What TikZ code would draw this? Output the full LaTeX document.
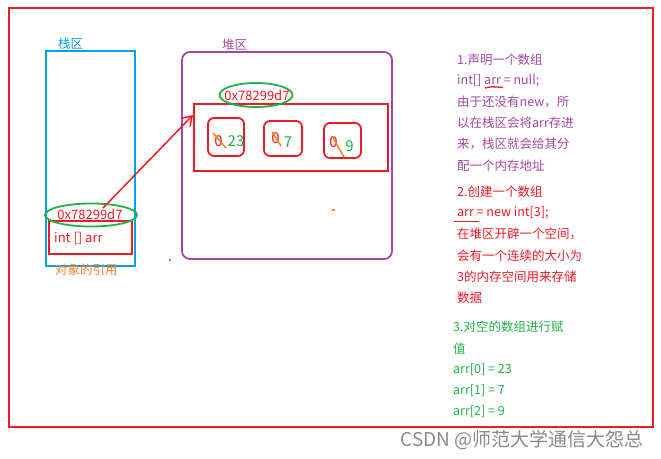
\documentclass[tikz,border=0pt]{standalone}
\usepackage{fontspec}
\setmainfont{Noto Sans CJK SC}
\usetikzlibrary{arrows.meta,shapes.geometric}
\definecolor{pred}{HTML}{ED1C24}
\definecolor{pgreen}{HTML}{22B14C}
\definecolor{pblue}{HTML}{00A2E8}
\definecolor{ppurple}{HTML}{A349A4}
\definecolor{porange}{HTML}{FF7F27}
\definecolor{pgray}{HTML}{8A8A8A}
\tikzset{
  txt/.style={anchor=west,inner sep=0pt,font=\fontsize{12.5}{14}\selectfont},
  big/.style={anchor=center,inner sep=0pt,font=\fontsize{15}{17}\selectfont},
  cell/.style={draw=pred,line width=1.8pt,rounded corners=6pt},
  ell/.style={draw=pgreen,line width=1.8pt,ellipse},
  slash/.style={draw=porange,line width=1.5pt}
}
\begin{document}
\begin{tikzpicture}[x=1pt,y=-1pt]
\useasboundingbox (0,0) rectangle (661,458);
\fill[white] (0,0) rectangle (661,458);
% outer frame
\node[draw=pred,line width=1.8pt,minimum width=644pt,minimum height=419pt,inner sep=0pt] (frame) at (331,217.5) {};
% stack
\node[draw=pblue,line width=1.8pt,minimum width=89pt,minimum height=215pt,inner sep=0pt] (stack) at (90.5,158.5) {};
\node[txt,text=pblue] (stacklbl) at (58,44) {栈区};
\node[draw=pred,line width=1.8pt,minimum width=83pt,minimum height=33pt,inner sep=0pt] (var) at (90.5,237.5) {};
\node[txt,text=pred,font=\fontsize{13}{15}\selectfont] (vartxt) at (54,238) {int [] arr};
\node[ell,minimum width=92pt,minimum height=23pt,inner sep=0pt] (sell) at (91,215) {};
\node[txt,text=pred,anchor=center,font=\fontsize{13}{15}\selectfont] (saddr) at (90,214) {0x78299d7};
\node[txt,text=porange] (ref) at (55,270) {对象的引用};
\fill[pred] (170,260) circle (1.2pt);
% heap
\node[draw=ppurple,line width=1.8pt,rounded corners=8pt,minimum width=210pt,minimum height=207pt,inner sep=0pt] (heap) at (287,155.5) {};
\node[txt,text=ppurple] (heaplbl) at (222,45) {堆区};
\node[draw=pred,line width=1.8pt,minimum width=194pt,minimum height=67pt,inner sep=0pt] (arr) at (291,137.5) {};
\node[ell,minimum width=73pt,minimum height=24pt,inner sep=0pt] (hell) at (256,95) {};
\node[txt,text=pred,anchor=center,font=\fontsize{13}{15}\selectfont] (haddr) at (257,95) {0x78299d7};
\node[cell,minimum width=36pt,minimum height=38pt,inner sep=0pt] (c1) at (226,137) {};
\node[cell,minimum width=38pt,minimum height=35pt,inner sep=0pt] (c2) at (283,138.5) {};
\node[cell,minimum width=37pt,minimum height=35pt,inner sep=0pt] (c3) at (342.5,140.5) {};
\node[big,text=pred] (z1) at (218.5,141) {0};
\node[big,text=pgreen] (v1) at (236,141) {23};
\node[big,text=pred] (z2) at (275.5,138) {0};
\node[big,text=pgreen] (v2) at (288,142) {7};
\node[big,text=pred] (z3) at (333.5,142) {0};
\node[big,text=pgreen] (v3) at (349.5,146) {9};
\draw[slash] (213,133) -- (226,148);
\draw[slash] (272,132) -- (281,146);
\draw[slash] (332,136) -- (344,157);
\fill[porange] (332,209) rectangle (335,210.5);
% arrow
\coordinate (a0) at (103,208);
\coordinate (a1) at (193,115);
\draw[pred,line width=1.5pt,-{Straight Barb[length=9pt,width=12pt]}] (a0) -- (a1);
% text 1
\begin{scope}[every node/.style={txt,text=ppurple}]
\node (t11) at (457,60) {1.声明一个数组};
\node (t12) at (457,81) {int[] arr = null;};
\node (t13) at (457,102) {由于还没有new，所};
\node (t14) at (457,123) {以在栈区会将arr存进};
\node (t15) at (457,144) {来，栈区就会给其分};
\node (t16) at (457,166) {配一个内存地址};
\end{scope}
\draw[pred,line width=1.3pt] (485,88) .. controls (492,86.5) .. (503,87.5);
\begin{scope}[every node/.style={txt,text=pred}]
\node (t21) at (457,192) {2.创建一个数组};
\node (t22) at (457,213) {arr = new int[3];};
\node (t23) at (457,234) {在堆区开辟一个空间，};
\node (t24) at (457,256) {会有一个连续的大小为};
\node (t25) at (457,277) {3的内存空间用来存储};
\node (t26) at (457,298) {数据};
\end{scope}
\draw[pred,line width=1.3pt] (454,221.5) -- (479,221.5);
\begin{scope}[every node/.style={txt,text=pgreen}]
\node (t31) at (453,327) {3.对空的数组进行赋};
\node (t32) at (453,349) {值};
\node (t33) at (453,370) {arr[0] = 23};
\node (t34) at (453,391) {arr[1] = 7};
\node (t35) at (453,412) {arr[2] = 9};
\end{scope}
\node[anchor=east,inner sep=0pt,text=pgray,font=\fontsize{19}{21}\selectfont] (wm) at (644,440) {CSDN @师范大学通信大怨总};
\end{tikzpicture}
\end{document}
